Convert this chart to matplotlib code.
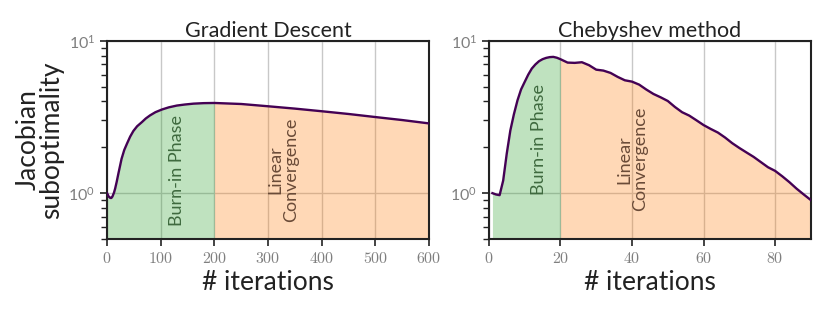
import matplotlib

matplotlib.use("Agg")
import matplotlib.pyplot as plt
from matplotlib.ticker import FuncFormatter, LogLocator, NullFormatter
import numpy as np

plt.rcParams["font.family"] = ["Lato", "DejaVu Sans"]
plt.rcParams["mathtext.fontset"] = "cm"

# Gradient descent: iteration vs. Jacobian suboptimality
gd_iter = [0, 3, 6, 8, 10, 13, 15, 18, 21, 24, 27, 32, 37, 43, 49, 56, 65, 72, 80,
           90, 102, 115, 130, 145, 161, 180, 200, 250, 300, 350, 400, 450, 500,
           550, 600]
gd_subopt = [1.0, 0.95, 0.93, 0.93, 0.95, 1.01, 1.07, 1.19, 1.34, 1.5, 1.68, 1.92,
             2.11, 2.35, 2.56, 2.75, 2.93, 3.09, 3.24, 3.4, 3.54, 3.66, 3.76, 3.82,
             3.87, 3.9, 3.91, 3.85, 3.72, 3.59, 3.45, 3.31, 3.16, 3.02, 2.87]

# Chebyshev method
ch_iter = [1, 2, 3, 4, 5, 6, 7, 8, 9, 10, 11, 12, 13, 14, 15, 16, 17, 18, 19, 20,
           22, 24, 26, 28, 30, 32, 34, 36, 38, 40, 42, 44, 46, 48, 50, 52, 54, 56,
           58, 60, 62, 64, 66, 68, 70, 72, 74, 76, 78, 80, 82, 84, 86, 88, 90]
ch_subopt = [1.0, 0.98, 0.97, 1.21, 1.82, 2.58, 3.3, 4.07, 4.8, 5.37, 6.0, 6.58,
             7.0, 7.35, 7.58, 7.73, 7.82, 7.85, 7.75, 7.58, 7.2, 7.17, 7.24, 6.92,
             6.47, 6.38, 6.16, 5.8, 5.51, 5.4, 5.16, 4.79, 4.48, 4.26, 4.03, 3.68,
             3.4, 3.23, 3.01, 2.8, 2.64, 2.5, 2.32, 2.13, 1.98, 1.85, 1.73, 1.6,
             1.48, 1.4, 1.29, 1.18, 1.07, 0.98, 0.9]

panels = [
    ("Gradient Descent", gd_iter, gd_subopt, 200, 600, [0, 100, 200, 300, 400, 500, 600],
     (130, 1.41), (328, 1.43)),
    ("Chebyshev method", ch_iter, ch_subopt, 20, 90, [0, 20, 40, 60, 80],
     (14, 2.24), (40, 1.67)),
]

LINE = "#440154"
GREEN = "tab:green"
ORANGE = "tab:orange"
TICK_GREY = "#7f7f7f"

fig = plt.figure(figsize=(8.3, 3.12), dpi=100)
lefts = [0.129, 0.589]

for left, (title, it, val, burn_end, xmax, xticks, burn_pos, lin_pos) in zip(lefts, panels):
    ax = fig.add_axes([left, 0.234, 0.388, 0.635])
    it = np.asarray(it, dtype=float)
    val = np.asarray(val, dtype=float)
    burn = it <= burn_end
    lin = it >= burn_end
    ax.fill_between(it[burn], 0.1, val[burn], color=GREEN, alpha=0.3, lw=0)
    ax.fill_between(it[lin], 0.1, val[lin], color=ORANGE, alpha=0.3, lw=0)
    ax.plot(it, val, color=LINE, lw=1.7, zorder=3)

    ax.set_yscale("log")
    ax.set_ylim(0.5, 10)
    ax.set_xlim(0, xmax)
    ax.set_xticks(xticks)
    ax.xaxis.set_major_formatter(FuncFormatter(lambda v, p: f"${int(v)}$"))
    ax.yaxis.set_major_locator(LogLocator(base=10))
    ax.yaxis.set_minor_locator(LogLocator(base=10, subs=np.arange(2, 10)))
    ax.yaxis.set_minor_formatter(NullFormatter())
    ax.grid(True, which="major", color="#c8c8c8", lw=1.0)
    ax.set_axisbelow(True)

    ax.tick_params(axis="both", which="both", direction="out", colors="#222222",
                   labelcolor=TICK_GREY, labelsize=11.5)
    ax.tick_params(axis="both", which="major", length=5, width=1.2)
    ax.tick_params(axis="y", which="minor", length=4, width=1.0)
    for sp in ax.spines.values():
        sp.set_linewidth(1.5)
        sp.set_color("#222222")

    ax.set_title(title, fontsize=15.5, pad=2, color="#222222")
    ax.set_xlabel("# iterations", fontsize=19, labelpad=3, color="#222222")

    ax.text(burn_pos[0], burn_pos[1], "Burn-in Phase", rotation=90, ha="center",
            va="center", fontsize=13, color="#3f6a3f")
    ax.text(lin_pos[0], lin_pos[1], "Linear\nConvergence", rotation=90, ha="center",
            va="center", ma="center", fontsize=13, color="#6a4b38", linespacing=1.0)

    if left < 0.5:
        ax.set_ylabel("Jacobian\nsuboptimality", fontsize=19, labelpad=3,
                      color="#222222", linespacing=0.95)

fig.savefig("out.png", dpi=100)
